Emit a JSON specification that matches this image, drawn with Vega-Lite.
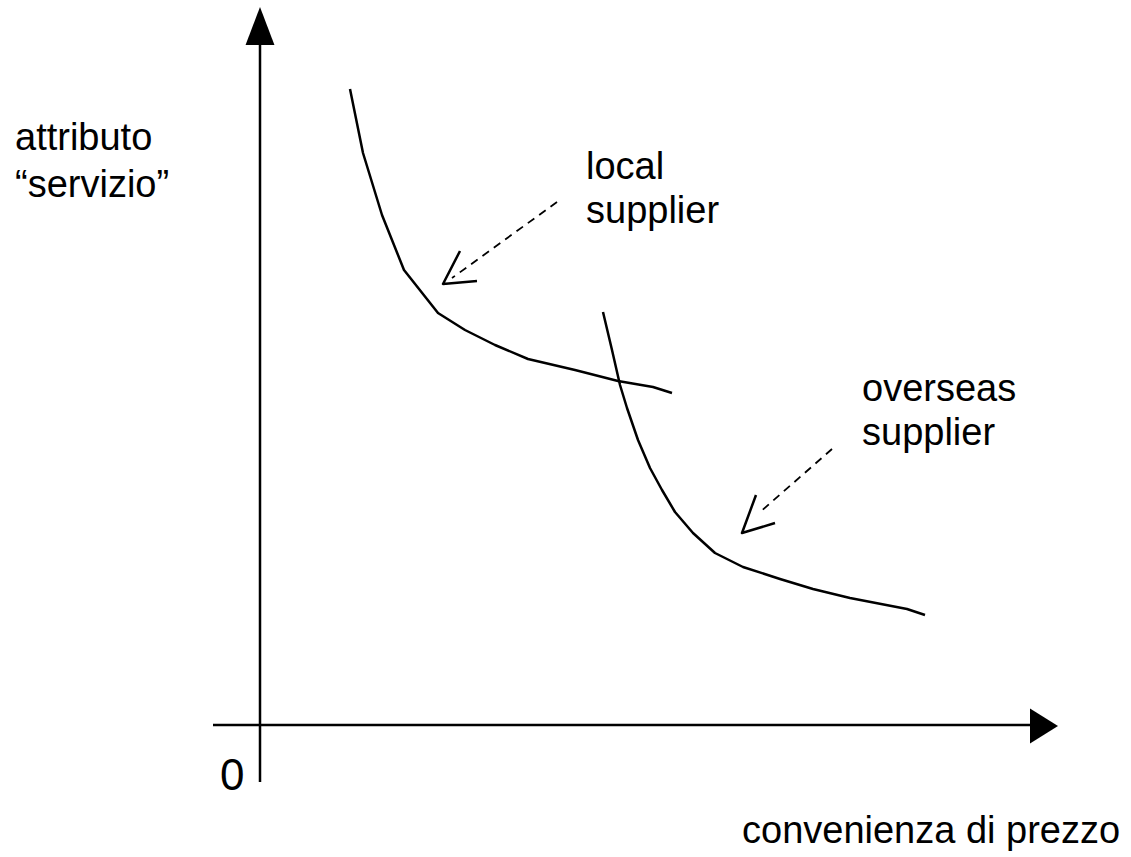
{
  "$schema": "https://vega.github.io/schema/vega-lite/v6.json",
  "width": 1131,
  "height": 857,
  "autosize": {"type": "none"},
  "padding": 0,
  "background": "white",
  "config": {"view": {"stroke": null}},
  "datasets": {
    "solid": [
      {"id": "yaxis", "i": 1, "x": 0, "y": -0.57},
      {"id": "yaxis", "i": 2, "x": 0, "y": 6.82},
      {"id": "xaxis", "i": 1, "x": -0.47, "y": 0},
      {"id": "xaxis", "i": 2, "x": 7.72, "y": 0},
      {"id": "local", "i": 1, "x": 0.90, "y": 6.36},
      {"id": "local", "i": 2, "x": 1.03, "y": 5.72},
      {"id": "local", "i": 3, "x": 1.22, "y": 5.10},
      {"id": "local", "i": 4, "x": 1.44, "y": 4.55},
      {"id": "local", "i": 5, "x": 1.78, "y": 4.12},
      {"id": "local", "i": 6, "x": 2.05, "y": 3.95},
      {"id": "local", "i": 7, "x": 2.35, "y": 3.80},
      {"id": "local", "i": 8, "x": 2.68, "y": 3.66},
      {"id": "local", "i": 9, "x": 3.15, "y": 3.55},
      {"id": "local", "i": 10, "x": 3.58, "y": 3.44},
      {"id": "local", "i": 11, "x": 3.93, "y": 3.38},
      {"id": "local", "i": 12, "x": 4.12, "y": 3.32},
      {"id": "overseas", "i": 1, "x": 3.43, "y": 4.13},
      {"id": "overseas", "i": 2, "x": 3.52, "y": 3.75},
      {"id": "overseas", "i": 3, "x": 3.60, "y": 3.40},
      {"id": "overseas", "i": 4, "x": 3.67, "y": 3.17},
      {"id": "overseas", "i": 5, "x": 3.78, "y": 2.85},
      {"id": "overseas", "i": 6, "x": 3.90, "y": 2.57},
      {"id": "overseas", "i": 7, "x": 4.02, "y": 2.35},
      {"id": "overseas", "i": 8, "x": 4.15, "y": 2.13},
      {"id": "overseas", "i": 9, "x": 4.33, "y": 1.92},
      {"id": "overseas", "i": 10, "x": 4.55, "y": 1.72},
      {"id": "overseas", "i": 11, "x": 4.83, "y": 1.58},
      {"id": "overseas", "i": 12, "x": 5.20, "y": 1.46},
      {"id": "overseas", "i": 13, "x": 5.53, "y": 1.36},
      {"id": "overseas", "i": 14, "x": 5.90, "y": 1.27},
      {"id": "overseas", "i": 15, "x": 6.47, "y": 1.16},
      {"id": "overseas", "i": 16, "x": 6.65, "y": 1.10},
      {"id": "headLocal", "i": 1, "x": 2.00, "y": 4.74},
      {"id": "headLocal", "i": 2, "x": 1.83, "y": 4.41},
      {"id": "headLocal", "i": 3, "x": 2.17, "y": 4.44},
      {"id": "headOverseas", "i": 1, "x": 4.96, "y": 2.30},
      {"id": "headOverseas", "i": 2, "x": 4.82, "y": 1.92},
      {"id": "headOverseas", "i": 3, "x": 5.15, "y": 2.02}
    ],
    "dashed": [
      {"id": "pLocal", "i": 1, "x": 2.97, "y": 5.23},
      {"id": "pLocal", "i": 2, "x": 1.92, "y": 4.47},
      {"id": "pOverseas", "i": 1, "x": 5.72, "y": 2.76},
      {"id": "pOverseas", "i": 2, "x": 4.99, "y": 2.12}
    ],
    "heads": [
      {"axis": "y", "x": 0.0, "y": 6.99},
      {"axis": "x", "x": 7.84, "y": -0.01}
    ],
    "labels": [
      {"text": "attributo", "x": -2.45, "y": 5.75},
      {"text": "“servizio”", "x": -2.45, "y": 5.28},
      {"text": "local", "x": 3.26, "y": 5.46},
      {"text": "supplier", "x": 3.26, "y": 5.02},
      {"text": "overseas", "x": 6.02, "y": 3.24},
      {"text": "supplier", "x": 6.02, "y": 2.80},
      {"text": "convenienza di prezzo", "x": 4.82, "y": -1.18}
    ],
    "zero": [
      {"text": "0", "x": -0.40, "y": -0.65}
    ]
  },
  "encoding": {
    "x": {"field": "x", "type": "quantitative", "scale": {"domain": [-2.6, 8.71], "nice": false, "zero": false}, "axis": null},
    "y": {"field": "y", "type": "quantitative", "scale": {"domain": [-1.32, 7.25], "nice": false, "zero": false}, "axis": null}
  },
  "layer": [
    {
      "data": {"name": "solid"},
      "mark": {"type": "line", "color": "black", "strokeWidth": 2.5, "strokeJoin": "round"},
      "encoding": {
        "detail": {"field": "id", "type": "nominal"},
        "order": {"field": "i", "type": "quantitative"}
      }
    },
    {
      "data": {"name": "dashed"},
      "mark": {"type": "line", "color": "black", "strokeWidth": 1.8, "strokeDash": [8, 6]},
      "encoding": {
        "detail": {"field": "id", "type": "nominal"},
        "order": {"field": "i", "type": "quantitative"}
      }
    },
    {
      "data": {"name": "heads"},
      "transform": [{"filter": "datum.axis === 'y'"}],
      "mark": {"type": "point", "filled": true, "color": "black", "opacity": 1, "strokeWidth": 0, "shape": "M0,-1L0.76,1L-0.76,1Z", "size": 1444}
    },
    {
      "data": {"name": "heads"},
      "transform": [{"filter": "datum.axis === 'x'"}],
      "mark": {"type": "point", "filled": true, "color": "black", "opacity": 1, "strokeWidth": 0, "shape": "M0.8,0L-0.8,1L-0.8,-1Z", "size": 1225}
    },
    {
      "data": {"name": "labels"},
      "mark": {"type": "text", "align": "left", "baseline": "alphabetic", "font": "Liberation Sans", "fontSize": 38, "color": "black"},
      "encoding": {"text": {"field": "text", "type": "nominal"}}
    },
    {
      "data": {"name": "zero"},
      "mark": {"type": "text", "align": "left", "baseline": "alphabetic", "font": "Liberation Sans", "fontSize": 44, "color": "black"},
      "encoding": {"text": {"field": "text", "type": "nominal"}}
    }
  ]
}
